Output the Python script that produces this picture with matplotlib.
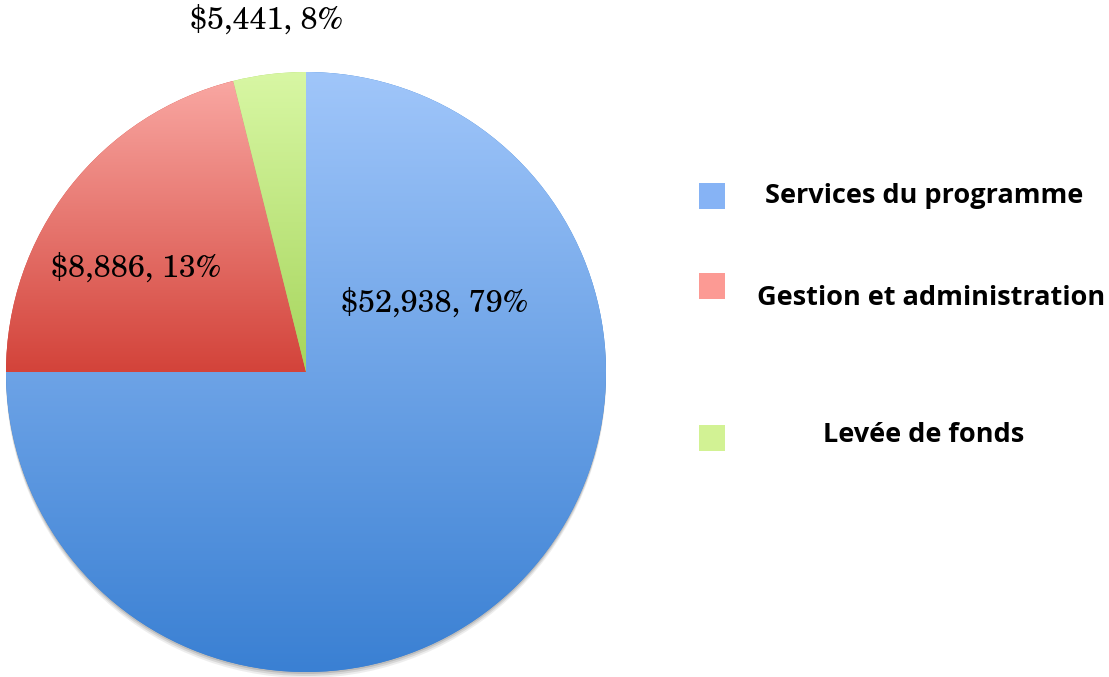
import numpy as np
import matplotlib.pyplot as plt
from matplotlib.patches import Rectangle, Circle
from matplotlib.colors import LinearSegmentedColormap

# slice sizes as drawn (share of the circle), and the printed labels
categories = ['Services du programme', 'Gestion et administration', 'Levée de fonds']
shares = [75.0, 21.1, 3.9]
labels = ['$52,938, 79%', '$8,886, 13%', '$5,441, 8%']

top_colors = ['#a0c6fa', '#f9a7a2', '#d8f7a4']
bottom_colors = ['#3a80d3', '#d3433a', '#a6d55c']
legend_colors = ['#86b3f5', '#fc9a94', '#d2f294']

W, H = 1109, 677
fig = plt.figure(figsize=(W / 100, H / 100), dpi=100)
ax = fig.add_axes([0, 0, 1, 1])

cx, cy, r = 306, H - 372, 300

# soft shadow under the pie
for off, a in [(6, 0.10), (4, 0.15), (2, 0.2)]:
    ax.add_patch(Circle((cx, cy - off), r, color='#555555', alpha=a, lw=0, zorder=0))

wedges, _ = ax.pie(shares, startangle=90, counterclock=False,
                   center=(cx, cy), radius=r,
                   wedgeprops=dict(linewidth=0, zorder=1))

# vertical gradient inside each wedge
grad = np.linspace(0, 1, 256).reshape(-1, 1)
for w, c0, c1 in zip(wedges, top_colors, bottom_colors):
    w.set_facecolor(c1)
    bb = w.get_path().get_extents(w.get_patch_transform())
    cmap = LinearSegmentedColormap.from_list('g', [c1, c0])
    im = ax.imshow(grad, cmap=cmap, origin='lower', aspect='auto',
                   extent=[bb.x0, bb.x1, bb.y0, bb.y1], zorder=2)
    im.set_clip_path(w)

serif = ['Century Schoolbook L', 'TeX Gyre Schola', 'Liberation Serif', 'DejaVu Serif']
ax.text(435, H - 302, labels[0], fontsize=22, family=serif, ha='center', va='center', zorder=5)
ax.text(136, H - 267, labels[1], fontsize=22, family=serif, ha='center', va='center', zorder=5)
ax.text(267, H - 19, labels[2], fontsize=22, family=serif, ha='center', va='center', zorder=5)

# legend
sq_y = [196, 286, 438]
txt_y = [196, 298, 435]
txt_x = [924, 931, 924]
for name, col, sy, ty, tx in zip(categories, legend_colors, sq_y, txt_y, txt_x):
    ax.add_patch(Rectangle((699, H - sy - 13), 26, 26, color=col, lw=0))
    ax.text(tx, H - ty, name, fontsize=19.5, family=['Open Sans', 'DejaVu Sans'],
            fontweight='bold', ha='center', va='center')

ax.set_xlim(0, W)
ax.set_ylim(0, H)
ax.set_aspect('auto')
ax.axis('off')

fig.savefig('out.png', dpi=100)
